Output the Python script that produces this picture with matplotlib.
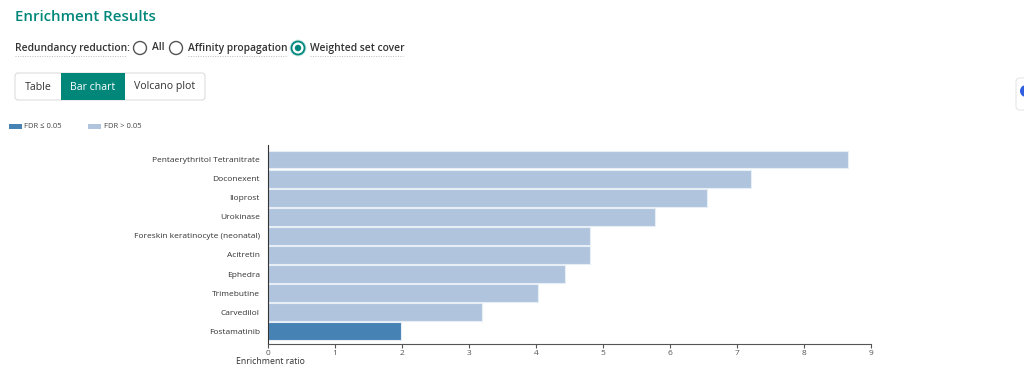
import matplotlib.pyplot as plt
from matplotlib.patches import Rectangle, Circle, FancyBboxPatch

# data
terms = ["Pentaerythritol Tetranitrate", "Doconexent", "Iloprost", "Urokinase",
         "Foreskin keratinocyte (neonatal)", "Acitretin", "Ephedra", "Trimebutine",
         "Carvedilol", "Fostamatinib"]
ratios = [8.65, 7.21, 6.55, 5.77, 4.80, 4.80, 4.43, 4.03, 3.19, 1.98]
significant = [False, False, False, False, False, False, False, False, False, True]
x_ticks = [0, 1, 2, 3, 4, 5, 6, 7, 8, 9]

dark = "#4682b4"
light = "#b0c4de"
teal = "#00877a"
plt.rcParams['font.family'] = ["Open Sans", 'DejaVu Sans']

fig = plt.figure(figsize=(10.24, 3.7), dpi=100)

# page overlay in pixel coordinates
ui = fig.add_axes([0, 0, 1, 1])
ui.set_xlim(0, 1024)
ui.set_ylim(370, 0)
ui.axis("off")

ui.text(15, 17, "Enrichment Results", color=teal, fontsize=10.8, va="center", fontweight="semibold")

lab = dict(color="#333333", fontsize=7.4, va="center", fontweight="semibold")
ui.text(15, 48, "Redundancy reduction:", **lab)
ui.plot([15, 126], [56, 56], color="#bbbbbb", lw=0.7, ls=(0, (1, 1.5)))
ui.add_patch(Circle((140, 48), 6.5, facecolor="white", edgecolor="#555555", lw=1.0))
ui.text(152, 48, "All", **lab)
ui.add_patch(Circle((176, 48), 6.5, facecolor="white", edgecolor="#555555", lw=1.0))
ui.text(188, 48, "Affinity propagation", **lab)
ui.plot([188, 286], [56, 56], color="#bbbbbb", lw=0.7, ls=(0, (1, 1.5)))
ui.add_patch(Circle((298, 48), 8.5, facecolor="#cfe9e6", edgecolor="none"))
ui.add_patch(Circle((298, 48), 6.5, facecolor="white", edgecolor=teal, lw=1.3))
ui.add_patch(Circle((298, 48), 3.2, facecolor=teal, edgecolor="none"))
ui.text(310, 48, "Weighted set cover", **lab)
ui.plot([310, 403], [56, 56], color="#bbbbbb", lw=0.7, ls=(0, (1, 1.5)))

# tab buttons
ui.add_patch(FancyBboxPatch((15, 73), 190, 27, boxstyle="round,pad=0,rounding_size=3",
                            facecolor="white", edgecolor="#dddddd", lw=0.8))
ui.add_patch(Rectangle((61, 73), 64, 27, facecolor=teal, edgecolor="none"))
ui.text(38, 87, "Table", color="#333333", fontsize=7.6, va="center", ha="center")
ui.text(93, 87, "Bar chart", color="white", fontsize=7.6, va="center", ha="center")
ui.text(165, 87, "Volcano plot", color="#333333", fontsize=7.6, va="center", ha="center")

# right edge widget
ui.add_patch(FancyBboxPatch((1016, 78), 20, 32, boxstyle="round,pad=0,rounding_size=4",
                            facecolor="white", edgecolor="#e6e6e6", lw=0.8))
ui.add_patch(Circle((1026, 91), 6, facecolor="#2f5fe0", edgecolor="none"))

# legend
ui.add_patch(Rectangle((9, 123.5), 13, 5.5, facecolor=dark, edgecolor="none"))
ui.text(24, 126.5, "FDR ≤ 0.05", color="#444444", fontsize=5.5, va="center")
ui.add_patch(Rectangle((88, 123.5), 13, 5.5, facecolor=light, edgecolor="none"))
ui.text(104, 126.5, "FDR > 0.05", color="#444444", fontsize=5.5, va="center")

# bar chart
ax = fig.add_axes([268 / 1024, 26 / 370, 603 / 1024, 199 / 370])
ypos = list(range(len(terms)))[::-1]
colors = [dark if s else light for s in significant]
ax.barh(ypos, ratios, height=0.92, color=colors, edgecolor="#e8eef6", lw=0.8)
ax.set_yticks(ypos)
ax.set_yticklabels(terms, fontsize=6, color="#333333")
ax.set_ylim(-0.67, 9.77)
ax.set_xlim(0, 9)
ax.set_xticks(x_ticks)
ax.set_xticklabels([str(t) for t in x_ticks], fontsize=6, color="#555555")
ax.tick_params(axis="y", length=0, pad=6)
ax.tick_params(axis="x", length=3, width=0.8, color="#555555", pad=1)
for side in ["top", "right"]:
    ax.spines[side].set_visible(False)
ax.spines["left"].set_color("#333333")
ax.spines["left"].set_linewidth(0.8)
ax.spines["bottom"].set_color("#555555")
ax.spines["bottom"].set_linewidth(0.8)
ax.set_facecolor("none")
ui.text(236, 361, "Enrichment ratio", color="#333333", fontsize=6.3, va="center")

fig.savefig("out.png", dpi=100)
